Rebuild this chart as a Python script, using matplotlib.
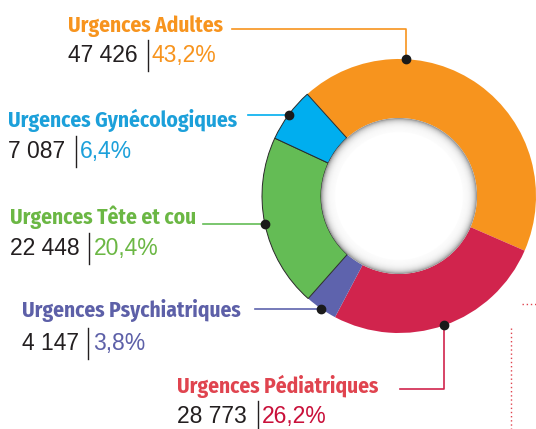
import matplotlib
matplotlib.use("Agg")
import matplotlib.pyplot as plt
from matplotlib.patches import Circle
import numpy as np

# data
labels = ['Urgences Adultes', 'Urgences Pédiatriques', 'Urgences Psychiatriques',
          'Urgences Tête et cou', 'Urgences Gynécologiques']
counts = ['47 426', '28 773', '4 147', '22 448', '7 087']
shares = [43.2, 26.2, 3.8, 20.4, 6.4]
wedge_colors = ['#F7941E', '#D1244D', '#5E63AD', '#64BC55', '#00AEEF']
title_colors = ['#F7941E', '#E0444F', '#5D60A8', '#6BB744', '#1CA0DA']
pct_colors = ['#F7941E', '#C9103A', '#5D60A8', '#6BB744', '#1CA0DA']

W, H = 536, 429
CX, CY, R, RIN = 399, 196, 137, 78


def Y(y):
    # picture rows -> axis y
    return H - y


fig = plt.figure(figsize=(W / 100, H / 100), dpi=100)
ax = fig.add_axes([0, 0, 1, 1])

wedges, _ = ax.pie(shares, colors=wedge_colors, startangle=132, counterclock=False,
                   center=(CX, Y(CY)), radius=R,
                   wedgeprops=dict(width=R - RIN, linewidth=0))
ax.set_xlim(0, W)
ax.set_ylim(0, H)
ax.set_aspect('auto')
ax.axis('off')

# the small cold slices have a thin dark outline in the original
for i in (3, 4):
    wedges[i].set_edgecolor('#2a2a2a')
    wedges[i].set_linewidth(0.7)

# inner shadow of the hole
ax.add_patch(Circle((CX, Y(CY)), RIN, facecolor='#9a9a9a', lw=0, zorder=3))
for k in range(1, 14):
    ax.add_patch(Circle((CX, Y(CY)), RIN - k, facecolor='white', alpha=0.28, lw=0, zorder=3))
ax.add_patch(Circle((CX, Y(CY)), RIN - 14, facecolor='white', lw=0, zorder=3))

# label layout (pixels): title left/right, title baseline, number baseline, bar x, pct x
layout = {
    'Urgences Adultes':        dict(x=68, x1=223, ty=32, ny=62, bar=148, px=152),
    'Urgences Gynécologiques': dict(x=8, x1=237, ty=127, ny=158, bar=76, px=80),
    'Urgences Tête et cou':    dict(x=10, x1=193, ty=224, ny=255, bar=89, px=94),
    'Urgences Psychiatriques': dict(x=22, x1=241, ty=317, ny=350, bar=88, px=93),
    'Urgences Pédiatriques':   dict(x=177, x1=392, ty=393, ny=423, bar=258, px=262),
}
# leader lines: start x, line y, angle on ring (None = wedge middle)
leaders = {
    'Urgences Adultes':        dict(x0=232, y=29, ang=87),
    'Urgences Gynécologiques': dict(x0=248, y=None, ang=None),
    'Urgences Tête et cou':    dict(x0=203, y=None, ang=None),
    'Urgences Psychiatriques': dict(x0=255, y=None, ang=None),
    'Urgences Pédiatriques':   dict(x0=400, y=389, ang=None),
}

title_font = dict(family=['Fira Sans Condensed', 'DejaVu Sans'], weight='bold')
num_font = dict(family=['Liberation Sans', 'DejaVu Sans'], size=16.5)

titles = []
for i, lab in enumerate(labels):
    L = layout[lab]
    t = ax.text(L['x'], Y(L['ty']), lab, color=title_colors[i], va='baseline', ha='left',
                size=16, **title_font)
    titles.append(t)
    ax.text(L['x'], Y(L['ny']), counts[i], color='#231F20', va='baseline', ha='left', **num_font)
    ax.plot([L['bar'], L['bar']], [Y(L['ny'] - 22), Y(L['ny'] + 9)], color='#231F20', lw=1)
    pct = f"{shares[i]:.1f}%".replace('.', ',')
    ax.text(L['px'], Y(L['ny']), pct, color=pct_colors[i], va='baseline', ha='left', **num_font)

    w = wedges[i]
    ld = leaders[lab]
    ang = ld['ang'] if ld['ang'] is not None else (w.theta1 + w.theta2) / 2
    dx = CX + R * np.cos(np.radians(ang))
    dy = Y(CY) + R * np.sin(np.radians(ang))
    if ld['y'] is None:
        ax.plot([ld['x0'], dx], [dy, dy], color=wedge_colors[i], lw=1.2, zorder=4)
    else:
        ax.plot([ld['x0'], dx, dx], [Y(ld['y']), Y(ld['y']), dy], color=wedge_colors[i], lw=1.2, zorder=4)
    ax.plot(dx, dy, 'o', color='#1a1a1a', ms=6, zorder=5)

# fit the title size to the widths seen in the reference
rend = fig.canvas.get_renderer()
ratios = []
for t, lab in zip(titles, labels):
    L = layout[lab]
    ratios.append((L['x1'] - L['x']) / t.get_window_extent(rend).width)
size = 16 * float(np.median(ratios))
for t in titles:
    t.set_fontsize(size)

# dotted fragments on the right edge
ax.plot([522, W], [Y(304), Y(304)], color='#E0444F', ls=(0, (1, 2)), lw=1)
ax.plot([511, 511], [Y(328), Y(H)], color='#E0444F', ls=(0, (1, 2)), lw=1)

fig.savefig('out.png', dpi=100)
